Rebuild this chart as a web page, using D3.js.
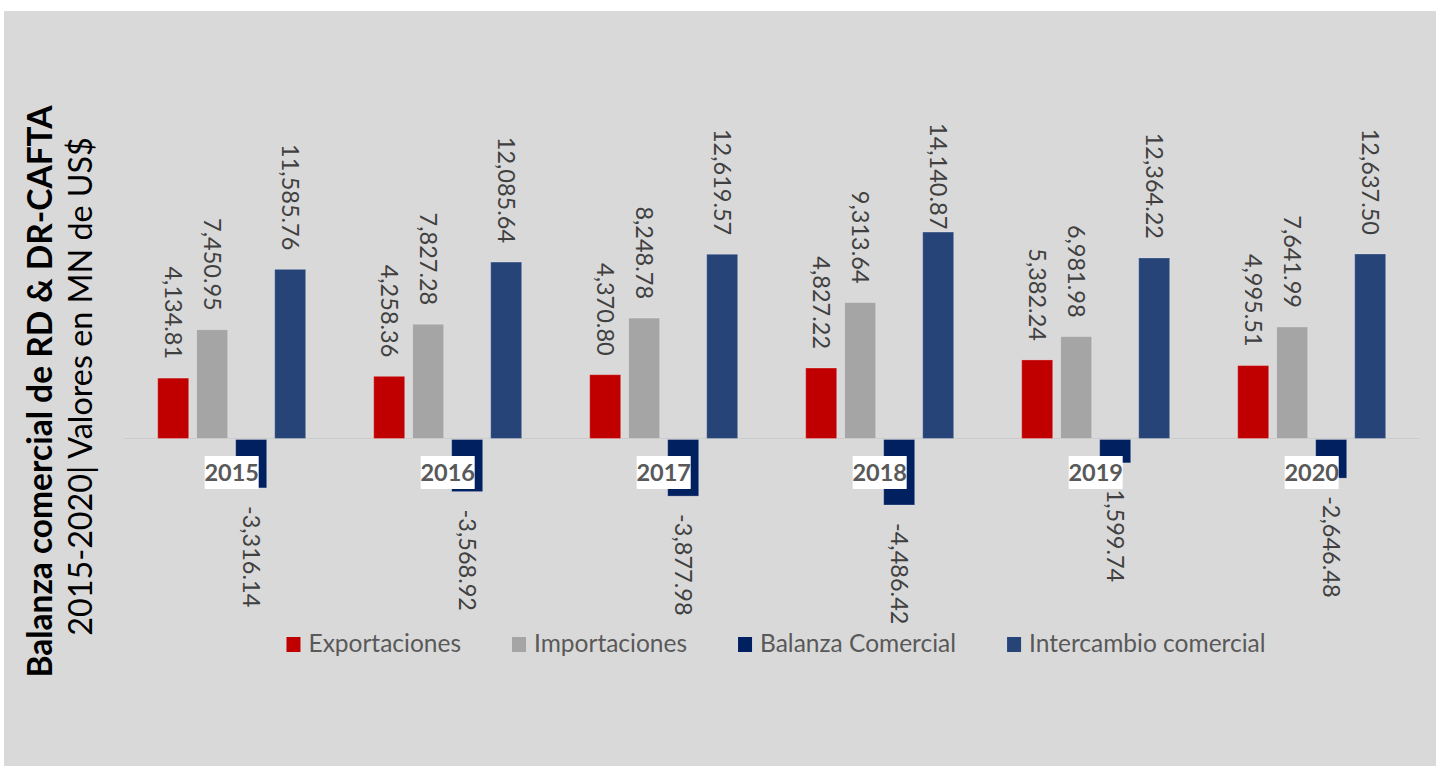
<!DOCTYPE html>
<html>
<head>
<meta charset="utf-8">
<script src="https://cdn.jsdelivr.net/npm/d3@7"></script>
<style>
  html, body { margin: 0; padding: 0; background: #ffffff; }
  svg { display: block; }
</style>
</head>
<body>
<svg id="chart" width="1441" height="768"></svg>
<script>
const years = ["2015", "2016", "2017", "2018", "2019", "2020"];
const exportaciones = [4134.81, 4258.36, 4370.80, 4827.22, 5382.24, 4995.51];
const importaciones = [7450.95, 7827.28, 8248.78, 9313.64, 6981.98, 7641.99];
const balanzaComercial = [-3316.14, -3568.92, -3877.98, -4486.42, -1599.74, -2646.48];
const intercambioComercial = [11585.76, 12085.64, 12619.57, 14140.87, 12364.22, 12637.50];
const seriesNames = ["Exportaciones", "Importaciones", "Balanza Comercial", "Intercambio comercial"];
const seriesColors = ["#C00000", "#A5A5A5", "#002060", "#264478"];
const titleLine1 = "Balanza comercial de RD & DR-CAFTA";
const titleLine2 = "2015-2020| Valores en MN de US$";

const seriesValues = [exportaciones, importaciones, balanzaComercial, intercambioComercial];
const data = years.map((yr, i) => ({
  year: yr,
  values: seriesNames.map((s, j) => ({ series: s, color: seriesColors[j], value: seriesValues[j][i] }))
}));

const svg = d3.select("#chart");
const FONT = "Lato, 'Open Sans', sans-serif";

// background panel
svg.append("rect").attr("x", 4).attr("y", 11).attr("width", 1432).attr("height", 755).attr("fill", "#D9D9D9");

const x0 = d3.scaleBand().domain(years).range([123.7, 1419.7]).paddingInner(0).paddingOuter(0);
const x1 = d3.scaleBand().domain(seriesNames).range([0, x0.bandwidth()]).paddingInner(0.205).paddingOuter(0.872);
const y = d3.scaleLinear().domain([-5000, 15000]).range([511.5, 219.5]);

// axis line
svg.append("line")
  .attr("x1", x0.range()[0]).attr("x2", x0.range()[1])
  .attr("y1", y(0)).attr("y2", y(0))
  .attr("stroke", "#cccccc").attr("stroke-width", 1);

const groups = svg.append("g").selectAll("g").data(data).join("g")
  .attr("transform", d => `translate(${x0(d.year)},0)`);

groups.selectAll("rect").data(d => d.values).join("rect")
  .attr("x", d => x1(d.series))
  .attr("width", x1.bandwidth())
  .attr("y", d => d.value >= 0 ? y(d.value) : y(0) + 1)
  .attr("height", d => Math.abs(y(d.value) - y(0)))
  .attr("fill", d => d.color)
  .attr("stroke", "#ffffff").attr("stroke-opacity", 0.25).attr("stroke-width", 1);

// value labels
const locale = d3.formatLocale({ decimal: ".", thousands: ",", grouping: [3], currency: ["$", ""], minus: "-" });
const fmt = locale.format(",.2f");
const plotTop = 123;
groups.each(function(d) {
  const g = d3.select(this);
  d.values.forEach(v => {
    const cx = x1(v.series) + x1.bandwidth() / 2;
    const t = g.append("text")
      .attr("font-family", FONT).attr("font-size", 23.5)
      .attr("fill", "#404040")
      .attr("dy", "0.35em")
      .text(fmt(v.value));
    const L = t.node().getComputedTextLength();
    if (v.value >= 0) {
      let endY = y(v.value) - 19;
      if (endY - L < plotTop) endY = plotTop + L;
      t.attr("text-anchor", "end").attr("transform", `translate(${cx},${endY}) rotate(90)`);
    } else {
      const startY = y(v.value) + 19;
      t.attr("text-anchor", "start").attr("transform", `translate(${cx},${startY}) rotate(90)`);
    }
  });
});

// category labels (white boxes)
const catG = svg.append("g").selectAll("g").data(years).join("g")
  .attr("transform", d => `translate(${x0(d) + x0.bandwidth() / 2},472.5)`);
catG.append("rect").attr("x", -27).attr("y", -16.5).attr("width", 54).attr("height", 33).attr("fill", "#ffffff");
catG.append("text")
  .attr("text-anchor", "middle").attr("dy", "0.36em")
  .attr("font-family", FONT).attr("font-weight", "bold").attr("font-size", 23.5)
  .attr("fill", "#595959")
  .text(d => d);

// title
svg.append("text")
  .attr("transform", "translate(52,391.5) rotate(-90)")
  .attr("text-anchor", "middle")
  .attr("font-family", FONT).attr("font-weight", "bold").attr("font-size", 33.5)
  .attr("fill", "#000000")
  .text(titleLine1);
svg.append("text")
  .attr("transform", "translate(92,386.5) rotate(-90)")
  .attr("text-anchor", "middle")
  .attr("font-family", FONT).attr("font-size", 32.3)
  .attr("fill", "#000000")
  .text(titleLine2);

// legend
const legend = svg.append("g");
const items = legend.selectAll("g").data(seriesNames).join("g");
items.append("rect").attr("x", 0).attr("y", 637).attr("width", 14).attr("height", 15)
  .attr("fill", (d, i) => seriesColors[i]);
items.append("text").attr("x", 22).attr("y", 652)
  .attr("font-family", FONT).attr("font-size", 24.5).attr("fill", "#595959")
  .text(d => d);
let cursor = 0;
const itemGap = 51;
const widths = [];
items.each(function() {
  const w = 22 + d3.select(this).select("text").node().getComputedTextLength();
  widths.push(w);
});
const total = d3.sum(widths) + itemGap * (widths.length - 1);
const startX = 776 - total / 2;
items.attr("transform", (d, i) => {
  const tx = startX + cursor;
  cursor += widths[i] + itemGap;
  return `translate(${tx},0)`;
});
</script>
</body>
</html>
